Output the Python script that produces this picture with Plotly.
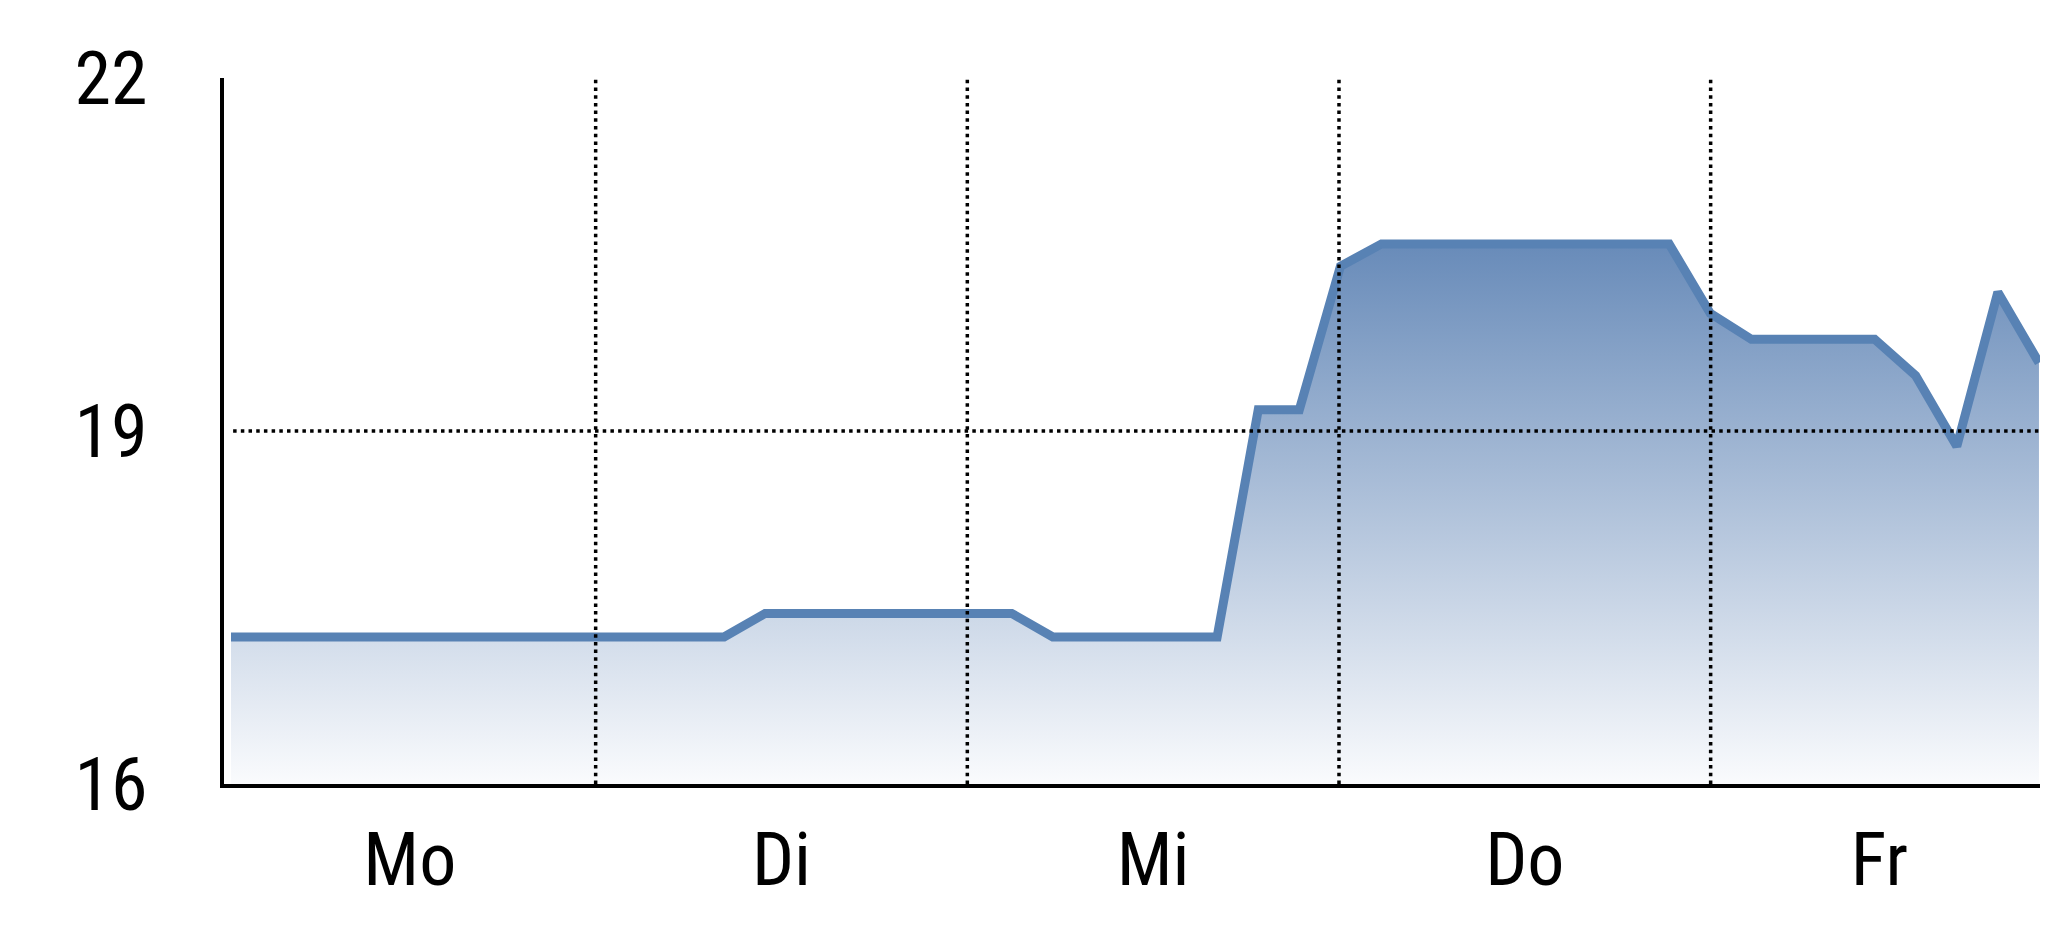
import plotly.graph_objects as go

# ---- data ----
days = ["Mo", "Di", "Mi", "Do", "Fr"]
readings = [
    17.25, 17.25, 17.25, 17.25, 17.25, 17.25, 17.25, 17.25, 17.25,
    17.25, 17.25, 17.25, 17.25, 17.45, 17.45, 17.45, 17.45, 17.45,
    17.45, 17.45, 17.25, 17.25, 17.25, 17.25, 17.25, 19.18, 19.18,
    20.40, 20.59, 20.59, 20.59, 20.59, 20.59, 20.59, 20.59, 20.59,
    20.00, 19.78, 19.78, 19.78, 19.78, 19.47, 18.87, 20.18, 19.58,
]
y_ticks = [16, 19, 22]
y_grid = [19]

# ---- layout of the time axis (in reading steps) ----
x_start = -0.17          # left edge of the plot / start of Monday
day_len = 9.045          # reading steps per day
x_end = 44.22            # right edge of the visible plot

steps = list(range(len(readings)))
boundaries = [x_start + day_len * (i + 1) for i in range(len(days) - 1)]
edges = [x_start] + boundaries + [x_end]
centers = [(edges[i] + edges[i + 1]) / 2 for i in range(len(days))]

FONT = "Roboto Condensed, Liberation Sans Narrow, Arial Narrow, sans-serif"
LINE = "rgb(88,130,180)"
GRID = dict(color="black", width=3.5, dash="3.5px,4.2px")

fig = go.Figure()
fig.add_trace(go.Scatter(
    x=steps, y=readings, mode="lines",
    line=dict(color=LINE, width=9),
    fill="tozeroy",
    fillgradient=dict(type="vertical", start=16, stop=max(readings),
                      colorscale=[[0, "rgb(250,251,253)"], [1, "rgb(104,139,185)"]]),
    hoverinfo="skip", showlegend=False,
))

# dotted grid lines drawn above the filled area
for b in boundaries:
    fig.add_shape(type="line", xref="x", yref="paper", x0=b, x1=b, y0=0, y1=1,
                  line=GRID, layer="above")
for g in y_grid:
    fig.add_shape(type="line", xref="paper", yref="y", x0=0.005, x1=1, y0=g, y1=g,
                  line=GRID, layer="above")

fig.update_layout(
    width=2040, height=921,
    margin=dict(l=216, r=0, t=70, b=145, autoexpand=False),
    paper_bgcolor="white", plot_bgcolor="white",
    font=dict(family=FONT, size=74, color="black"),
    showlegend=False,
)
fig.update_xaxes(
    range=[x_start, x_end], tickmode="array", tickvals=centers, ticktext=days,
    showgrid=False, zeroline=False,
    showline=True, linecolor="black", linewidth=3.5, layer="above traces",
    ticks="outside", ticklen=8, tickcolor="rgba(0,0,0,0)",
    automargin=False,
)
fig.update_yaxes(
    range=[16, 22], tickmode="array", tickvals=y_ticks,
    showgrid=False, zeroline=False,
    showline=True, linecolor="black", linewidth=3.5, layer="above traces",
    ticks="outside", ticklen=58, tickcolor="rgba(0,0,0,0)",
    automargin=False,
)

fig.write_html("out.html")
